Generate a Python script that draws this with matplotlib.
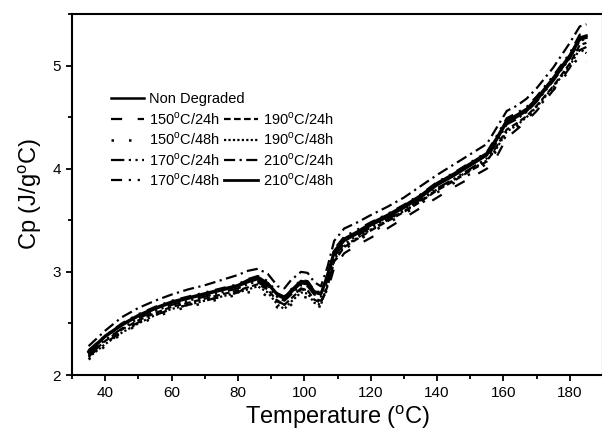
import matplotlib
matplotlib.use("Agg")
from matplotlib import pyplot as plt
from matplotlib.ticker import MultipleLocator

plt.rcParams['font.family'] = ['Liberation Sans', 'DejaVu Sans']
plt.rcParams['mathtext.fontset'] = 'custom'
plt.rcParams['mathtext.rm'] = 'Liberation Sans'

# temperature (C)
temp = [35, 40, 45, 50, 55, 60, 65, 70, 75, 80, 83, 86, 89, 92, 94, 96, 99, 101, 103, 105,
        107, 109, 112, 116, 120, 125, 130, 135, 140, 145, 150, 155, 158, 161, 164, 167, 170,
        175, 180, 183, 185]

non_degraded = [2.22, 2.37, 2.48, 2.57, 2.64, 2.70, 2.74, 2.78, 2.82, 2.86, 2.90, 2.93, 2.88, 2.77,
                2.74, 2.80, 2.89, 2.88, 2.80, 2.78, 2.95, 3.18, 3.30, 3.37, 3.45, 3.53, 3.62, 3.72,
                3.84, 3.93, 4.03, 4.13, 4.28, 4.45, 4.50, 4.56, 4.66, 4.86, 5.08, 5.25, 5.27]
c150_24 = [2.18, 2.31, 2.42, 2.51, 2.58, 2.64, 2.68, 2.72, 2.76, 2.80, 2.86, 2.90, 2.84, 2.72,
           2.68, 2.75, 2.84, 2.82, 2.74, 2.72, 2.82, 3.04, 3.18, 3.26, 3.33, 3.42, 3.52, 3.62,
           3.72, 3.82, 3.91, 4.00, 4.12, 4.30, 4.38, 4.46, 4.56, 4.76, 4.98, 5.15, 5.18]
c150_48 = [2.15, 2.28, 2.40, 2.49, 2.56, 2.62, 2.66, 2.70, 2.74, 2.78, 2.80, 2.82, 2.76, 2.65,
           2.62, 2.68, 2.76, 2.75, 2.68, 2.66, 2.85, 3.10, 3.22, 3.30, 3.38, 3.47, 3.56, 3.66,
           3.77, 3.86, 3.95, 4.05, 4.18, 4.33, 4.40, 4.48, 4.58, 4.76, 4.96, 5.10, 5.04]
c170_24 = [2.20, 2.34, 2.45, 2.55, 2.62, 2.68, 2.72, 2.76, 2.80, 2.84, 2.88, 2.91, 2.86, 2.75,
           2.72, 2.78, 2.87, 2.86, 2.78, 2.76, 2.92, 3.15, 3.27, 3.35, 3.43, 3.51, 3.60, 3.70,
           3.81, 3.90, 4.00, 4.10, 4.26, 4.43, 4.48, 4.55, 4.65, 4.85, 5.07, 5.24, 5.26]
c170_48 = [2.24, 2.38, 2.50, 2.59, 2.66, 2.72, 2.76, 2.80, 2.84, 2.88, 2.93, 2.96, 2.91, 2.79,
           2.76, 2.83, 2.92, 2.91, 2.82, 2.80, 2.98, 3.22, 3.34, 3.41, 3.48, 3.56, 3.65, 3.75,
           3.87, 3.96, 4.06, 4.16, 4.32, 4.49, 4.54, 4.60, 4.70, 4.90, 5.12, 5.30, 5.32]
c190_24 = [2.19, 2.33, 2.44, 2.53, 2.60, 2.66, 2.70, 2.74, 2.78, 2.82, 2.85, 2.88, 2.83, 2.71,
           2.68, 2.74, 2.83, 2.82, 2.73, 2.70, 2.86, 3.10, 3.24, 3.32, 3.40, 3.49, 3.58, 3.68,
           3.79, 3.88, 3.98, 4.07, 4.22, 4.38, 4.44, 4.51, 4.61, 4.80, 5.02, 5.20, 5.22]
c190_48 = [2.17, 2.30, 2.41, 2.50, 2.58, 2.64, 2.68, 2.72, 2.76, 2.80, 2.83, 2.86, 2.80, 2.68,
           2.64, 2.71, 2.80, 2.79, 2.70, 2.68, 2.88, 3.12, 3.25, 3.33, 3.41, 3.50, 3.59, 3.69,
           3.80, 3.89, 3.99, 4.08, 4.20, 4.36, 4.42, 4.50, 4.60, 4.79, 5.00, 5.16, 5.12]
c210_24 = [2.28, 2.43, 2.56, 2.65, 2.72, 2.78, 2.83, 2.87, 2.92, 2.97, 3.01, 3.03, 2.98, 2.86,
           2.84, 2.92, 3.00, 2.99, 2.90, 2.86, 3.05, 3.30, 3.42, 3.48, 3.55, 3.63, 3.72, 3.83,
           3.94, 4.04, 4.14, 4.24, 4.40, 4.56, 4.61, 4.68, 4.78, 4.98, 5.22, 5.38, 5.40]
c210_48 = [2.23, 2.38, 2.49, 2.58, 2.65, 2.71, 2.75, 2.79, 2.83, 2.87, 2.92, 2.95, 2.89, 2.78,
           2.75, 2.82, 2.91, 2.90, 2.81, 2.79, 2.97, 3.20, 3.32, 3.39, 3.47, 3.55, 3.64, 3.74,
           3.86, 3.95, 4.05, 4.15, 4.30, 4.47, 4.52, 4.58, 4.68, 4.88, 5.10, 5.27, 5.29]

deg = r'$^{\mathrm{o}}$'
names = ["Non Degraded", "150" + deg + "C/24h", "150" + deg + "C/48h", "170" + deg + "C/24h",
         "170" + deg + "C/48h", "190" + deg + "C/24h", "190" + deg + "C/48h",
         "210" + deg + "C/24h", "210" + deg + "C/48h"]
series = [non_degraded, c150_24, c150_48, c170_24, c170_48, c190_24, c190_48, c210_24, c210_48]
styles = ['-', (0, (5, 7)), (0, (1, 6)), (0, (6, 2, 1, 2, 1, 2)), (0, (5, 3, 1, 3, 1, 3)),
          (0, (3, 1.5)), (0, (1, 1)), (0, (5, 2, 1, 2)), '-']
widths = [1.8, 1.6, 1.8, 1.6, 1.6, 1.6, 1.6, 1.6, 2.0]

fig = plt.figure(figsize=(6.02, 4.36), dpi=100)
ax = fig.add_axes([72 / 602, 61 / 436, 531 / 602, 361 / 436])

handles = []
for i, y in enumerate(series):
    ln, = ax.plot(temp, y, color='black', linestyle=styles[i], linewidth=widths[i], label=names[i])
    handles.append(ln)

legkw = dict(frameon=False, fontsize=10.5, loc='upper left', borderpad=0,
             handlelength=2.3, handletextpad=0.35, columnspacing=0.3, labelspacing=0.25)
leg1 = ax.legend(handles[:1], names[:1], bbox_to_anchor=(0.059, 0.804), **legkw)
ax.add_artist(leg1)
ax.legend(handles[1:], names[1:], ncol=2, bbox_to_anchor=(0.059, 0.752), **legkw)

ax.set_xlim(30, 190)
ax.set_ylim(2, 5.5)
ax.xaxis.set_major_locator(MultipleLocator(20))
ax.xaxis.set_minor_locator(MultipleLocator(10))
ax.yaxis.set_major_locator(MultipleLocator(1))
ax.yaxis.set_minor_locator(MultipleLocator(0.5))
ax.tick_params(which='major', direction='out', length=4.5, width=1.3, labelsize=11)
ax.tick_params(which='minor', direction='out', length=3, width=1.3)
for s in ax.spines.values():
    s.set_linewidth(1.5)

ax.set_xlabel("Temperature (" + deg + "C)", fontsize=17, labelpad=2)
ax.set_ylabel("Cp (J/g" + deg + "C)", fontsize=17, labelpad=6)

fig.savefig("out.png", dpi=100)
